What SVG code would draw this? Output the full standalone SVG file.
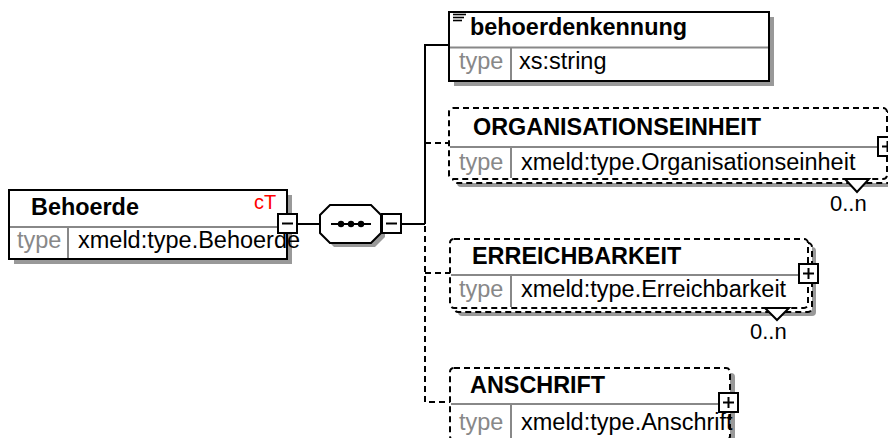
<svg xmlns="http://www.w3.org/2000/svg" width="888" height="438" viewBox="0 0 888 438">
<style>
.box{fill:#fff;stroke:#000;stroke-width:2}
.dbox{fill:#fff;stroke:#000;stroke-width:2;stroke-dasharray:6 4}
.sh{fill:#999}
.dv{stroke:#888;stroke-width:2}
.ln{stroke:#000;stroke-width:2;fill:none}
.dl{stroke:#000;stroke-width:2;fill:none;stroke-dasharray:6 4}
.b{font-family:"Liberation Sans",Arial,sans-serif;font-weight:bold;font-size:23.4px;fill:#000}
.r{font-family:"Liberation Sans",Arial,sans-serif;font-size:23.5px;fill:#000}
.t{fill:#888}
.oc{font-family:"Liberation Sans",Arial,sans-serif;font-size:22px;fill:#000}
</style>
<rect width="888" height="438" fill="#fff"/>
<g id="connectors">
<line class="ln" x1="296" y1="224" x2="321" y2="224"/>
<line class="ln" x1="401" y1="224" x2="425" y2="224"/>
<polyline class="ln" points="425,224 425,45 449,45"/>
<polyline class="dl" points="425,226 425,402 450,402"/>
<line class="dl" x1="425" y1="143" x2="449" y2="143"/>
<line class="dl" x1="425" y1="273" x2="450" y2="273"/>
</g>
<g id="Behoerde">
<rect class="sh" x="14" y="195" width="278" height="69"/>
<rect class="box" x="9" y="190" width="278" height="69"/>
<line class="dv" x1="10" y1="227" x2="286" y2="227"/>
<line class="dv" x1="68" y1="227" x2="68" y2="258"/>
<text class="b" x="31" y="215">Behoerde</text>
<text x="254" y="209" font-family="Liberation Sans,Arial,sans-serif" font-size="20" fill="#f00">cT</text>
<text class="r t" x="17" y="248">type</text>
<text class="r" x="78" y="248">xmeld:type.Behoerde</text>
<rect class="box" x="278" y="214" width="19" height="19"/>
<line class="ln" x1="282" y1="223.5" x2="293" y2="223.5"/>
</g>
<g id="sequence">
<polygon class="sh" points="334,209 375,209 385,219 385,237 375,247 334,247 324,237 324,219"/>
<polygon class="box" points="330,205 371,205 381,215 381,233 371,243 330,243 320,233 320,215"/>
<line class="ln" x1="331" y1="224" x2="371" y2="224"/>
<circle cx="341" cy="224" r="3.2"/>
<circle cx="351" cy="224" r="3.2"/>
<circle cx="361" cy="224" r="3.2"/>
<rect class="box" x="382" y="214" width="19" height="19"/>
<line class="ln" x1="386" y1="223.5" x2="397" y2="223.5"/>
</g>
<g id="behoerdenkennung">
<rect class="sh" x="454" y="17" width="320" height="69"/>
<rect class="box" x="449" y="12" width="320" height="69"/>
<line class="dv" x1="450" y1="47.5" x2="768" y2="47.5"/>
<line class="dv" x1="511" y1="47.5" x2="511" y2="80"/>
<line stroke="#000" stroke-width="1.6" x1="453" y1="14.5" x2="466" y2="14.5"/>
<line stroke="#000" stroke-width="1.6" x1="453" y1="17.5" x2="464" y2="17.5"/>
<line stroke="#000" stroke-width="1.6" x1="453" y1="20.5" x2="462" y2="20.5"/>
<text class="b" x="470" y="35">behoerdenkennung</text>
<text class="r t" x="459" y="69">type</text>
<text class="r" x="519" y="69">xs:string</text>
</g>
<g id="ORGANISATIONSEINHEIT">
<rect class="sh" x="457" y="116" width="438" height="71" rx="4"/>
<rect class="dbox" x="453" y="112" width="438" height="71" rx="4"/>
<rect class="dbox" x="449" y="108" width="438" height="71" rx="4"/>
<line class="dv" x1="450" y1="147" x2="886" y2="147"/>
<line class="dv" x1="511" y1="147" x2="511" y2="178"/>
<text class="b" x="473" y="135">ORGANISATIONSEINHEIT</text>
<text class="r t" x="459" y="170">type</text>
<text class="r" x="521" y="170">xmeld:type.Organisationseinheit</text>
<rect class="box" x="878" y="137" width="19" height="19"/>
<line class="ln" x1="882" y1="146.5" x2="893" y2="146.5"/>
<line class="ln" x1="887.5" y1="141" x2="887.5" y2="152"/>
<polygon points="845,179 857,192 869,179" fill="#fff" stroke="#000" stroke-width="2"/>
<text class="oc" x="830" y="211">0..n</text>
</g>
<g id="ERREICHBARKEIT">
<rect class="sh" x="458" y="247" width="358" height="69" rx="4"/>
<rect class="dbox" x="454" y="243" width="358" height="69" rx="4"/>
<rect class="dbox" x="450" y="239" width="358" height="69" rx="4"/>
<line class="dv" x1="451" y1="275" x2="807" y2="275"/>
<line class="dv" x1="511" y1="275" x2="511" y2="307"/>
<text class="b" x="472" y="264">ERREICHBARKEIT</text>
<text class="r t" x="459" y="297">type</text>
<text class="r" x="521" y="297">xmeld:type.Erreichbarkeit</text>
<rect class="box" x="799" y="264" width="19" height="19"/>
<line class="ln" x1="803" y1="273.5" x2="814" y2="273.5"/>
<line class="ln" x1="808.5" y1="268" x2="808.5" y2="279"/>
<polygon points="765,308 777,320 789,308" fill="#fff" stroke="#000" stroke-width="2"/>
<text class="oc" x="750" y="339">0..n</text>
</g>
<g id="ANSCHRIFT">
<rect class="sh" x="455" y="373" width="280" height="72" rx="4"/>
<rect class="dbox" x="450" y="368" width="280" height="72" rx="4"/>
<line class="dv" x1="451" y1="404" x2="729" y2="404"/>
<line class="dv" x1="511" y1="404" x2="511" y2="438"/>
<text class="b" x="470" y="393">ANSCHRIFT</text>
<text class="r t" x="459" y="430">type</text>
<text class="r" x="521" y="430">xmeld:type.Anschrift</text>
<rect class="box" x="719" y="393" width="19" height="19"/>
<line class="ln" x1="723" y1="402.5" x2="734" y2="402.5"/>
<line class="ln" x1="728.5" y1="397" x2="728.5" y2="408"/>
</g>
</svg>
